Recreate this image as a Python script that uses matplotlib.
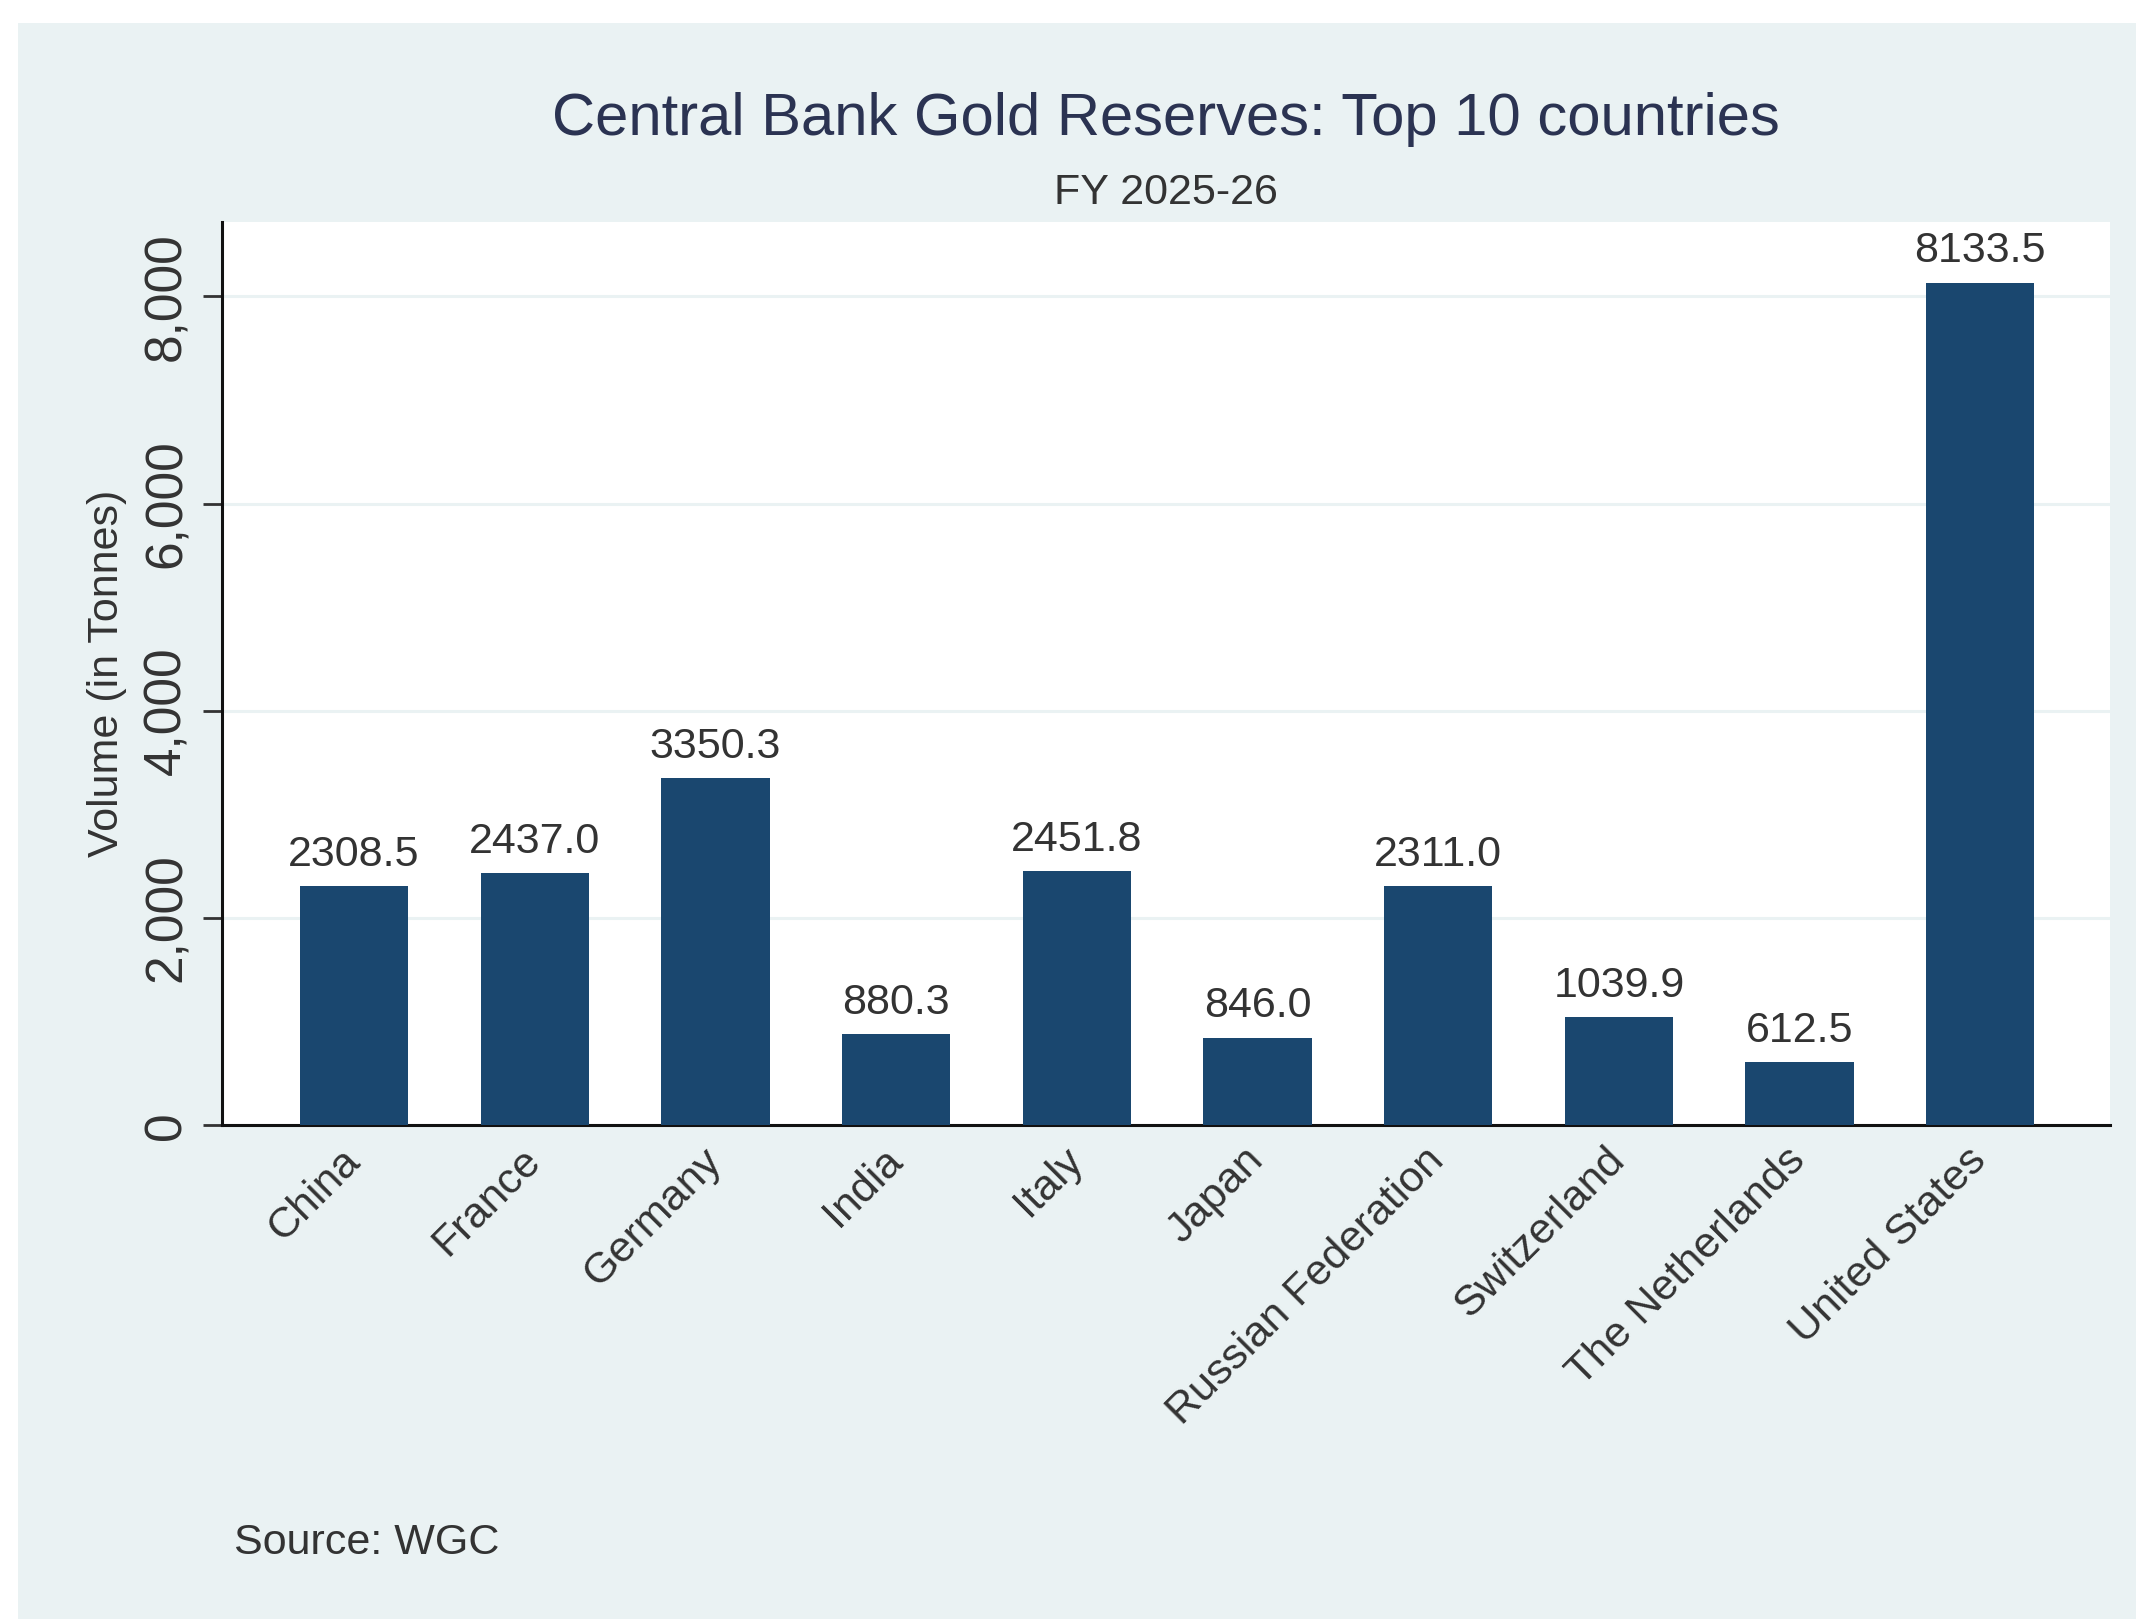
import matplotlib
matplotlib.use("Agg")
import matplotlib.pyplot as plt
from matplotlib.patches import Rectangle
from matplotlib.ticker import FuncFormatter

countries = ["China", "France", "Germany", "India", "Italy", "Japan",
             "Russian Federation", "Switzerland", "The Netherlands", "United States"]
reserves = [2308.5, 2437.0, 3350.3, 880.3, 2451.8, 846.0, 2311.0, 1039.9, 612.5, 8133.5]
y_ticks = [0, 2000, 4000, 6000, 8000]

title = "Central Bank Gold Reserves: Top 10 countries"
subtitle = "FY 2025-26"
y_label = "Volume (in Tonnes)"
source_note = "Source: WGC"

plt.rcParams["font.family"] = ["Liberation Sans", "DejaVu Sans"]

BG = "#EAF2F3"
BAR = "#1A476F"
TEXT = "#333333"

fig = plt.figure(figsize=(21.36, 16.19), dpi=100, facecolor="white")

# graph region background with a thin white margin on top and left
fig.patches.append(Rectangle((0.0085, 0.0), 0.9915, 0.986, transform=fig.transFigure,
                             facecolor=BG, edgecolor="none", zorder=-10))

ax = fig.add_axes([0.104, 0.305, 0.884, 0.558])
ax.set_zorder(1)
ax.set_facecolor("white")

x = range(len(countries))
ax.bar(x, reserves, width=0.6, color=BAR, zorder=3)

for xi, v in zip(x, reserves):
    ax.annotate(f"{v:.1f}", (xi, v), xytext=(0, 8), textcoords="offset points",
                ha="center", va="bottom", fontsize=31, color=TEXT, zorder=4)

ax.set_xlim(-0.73, len(countries) - 1 + 0.72)
ax.set_ylim(0, 8720)

ax.set_yticks(y_ticks)
ax.yaxis.set_major_formatter(FuncFormatter(lambda v, p: f"{int(v):,}"))
ax.grid(axis="y", color=BG, linewidth=2.2, zorder=1)
ax.set_axisbelow(True)

for lbl in ax.get_yticklabels():
    lbl.set_rotation(90)
    lbl.set_va("center")
ax.tick_params(axis="y", labelsize=37, length=14, width=2, color=TEXT,
               labelcolor=TEXT, pad=8)

ax.set_xticks(list(x))
ax.set_xticklabels(countries, rotation=45, ha="right", va="center",
                   rotation_mode="anchor", fontsize=31, color=TEXT)
ax.tick_params(axis="x", length=0, pad=21)

for side in ("top", "right"):
    ax.spines[side].set_visible(False)
for side in ("left", "bottom"):
    ax.spines[side].set_linewidth(2.2)
    ax.spines[side].set_color("#111111")

ax.set_ylabel(y_label, fontsize=31, color=TEXT, labelpad=11)

cx = 0.104 + 0.884 / 2
fig.text(cx, 0.926, title, ha="center", va="center", fontsize=43, color="#2B3352")
fig.text(cx, 0.881, subtitle, ha="center", va="center", fontsize=31, color=TEXT)
fig.text(0.1095, 0.047, source_note, ha="left", va="center", fontsize=31, color=TEXT)

fig.savefig("out.png", dpi=100, facecolor="white")
